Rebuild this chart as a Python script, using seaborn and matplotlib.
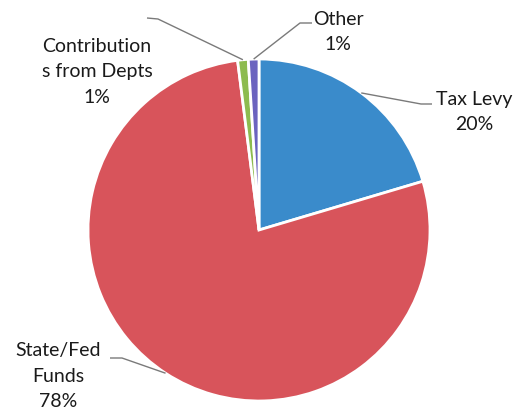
import matplotlib
matplotlib.use("Agg")
import matplotlib.pyplot as plt
import seaborn as sns
import numpy as np

# Funding sources, clockwise from 12 o'clock
sources = ["Tax Levy", "State/Fed\nFunds", "Contribution\ns from Depts", "Other"]
shares = [20.4, 77.6, 1.0, 1.0]
slice_colors = ["#3A8BCB", "#D8545B", "#8DBB4F", "#6B63BF"]

sns.set_theme(style="white")
plt.rcParams["font.family"] = ["Lato", "DejaVu Sans"]

W, H = 516, 418
fig = plt.figure(figsize=(W / 100, H / 100), dpi=100)
fig.patch.set_facecolor("white")

# pie centre and radius in pixels
cx, cy, r = 259, 230, 171
ax = fig.add_axes([(cx - r) / W, (H - cy - r) / H, 2 * r / W, 2 * r / H])

wedges, _ = ax.pie(
    shares,
    colors=slice_colors,
    startangle=90,
    counterclock=False,
    radius=1,
    wedgeprops=dict(edgecolor="white", linewidth=2),
)
ax.set_xlim(-1, 1)
ax.set_ylim(-1, 1)
ax.set_aspect("equal")
ax.axis("off")


def px(x, y):
    """pixel position (from top-left) -> data coords of the pie axes"""
    return (x - cx) / r, (cy - y) / r


total = sum(shares)
# label centre and leader anchor points (pixels)
layout = {
    0: dict(text=(474, 112), leader=[(432, 104), (421, 104)]),
    1: dict(text=(58, 376), leader=[(110, 358), (122, 358)]),
    2: dict(text=(97, 72), leader=[(147, 18), (158, 19)]),
    3: dict(text=(338, 32), leader=[(312, 23), (300, 23)]),
}

for i, w in enumerate(wedges):
    mid = np.deg2rad((w.theta1 + w.theta2) / 2)
    edge = (np.cos(mid), np.sin(mid))
    pts = [px(*p) for p in layout[i]["leader"]] + [edge]
    xs, ys = zip(*pts)
    ax.plot(xs, ys, color="#7a7a7a", lw=1.0, clip_on=False,
            solid_capstyle="butt")
    label = f"{sources[i]}\n{shares[i] / total * 100:.0f}%"
    tx, ty = px(*layout[i]["text"])
    ax.text(tx, ty, label, ha="center", va="center", fontsize=14,
            color="#1a1a1a", linespacing=1.6, clip_on=False)

fig.savefig("out.png", dpi=100, facecolor="white")
